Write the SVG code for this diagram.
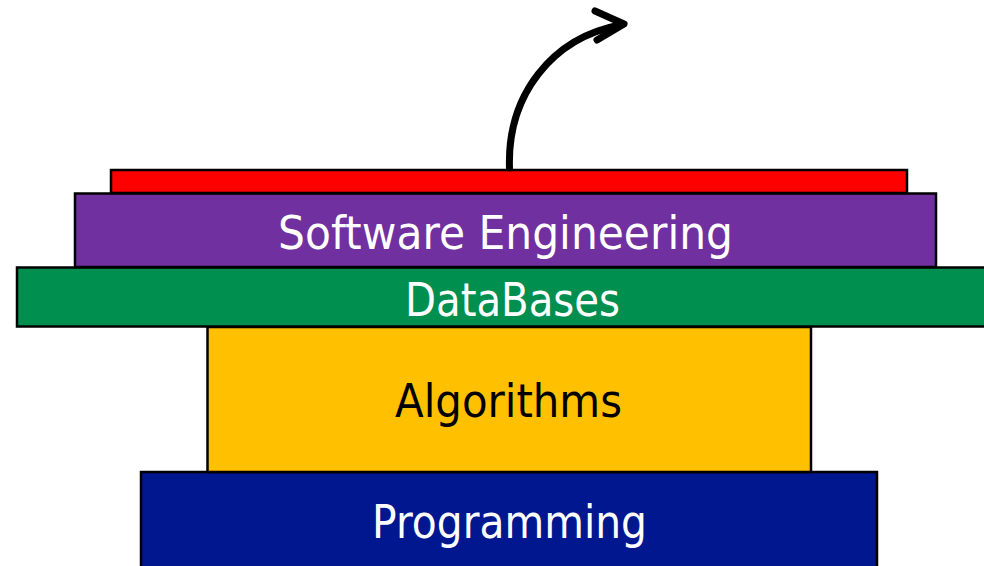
<svg xmlns="http://www.w3.org/2000/svg" width="984" height="566" viewBox="0 0 984 566">
  <style>
    .layer { stroke: #000; stroke-width: 2.5; }
    .lbl { font-family: "DejaVu Sans", "Liberation Sans", sans-serif; font-size: 46px; text-anchor: middle; }
    .light { fill: #ffffff; }
    .dark { fill: #000000; }
    .arrow { fill: none; stroke: #000; stroke-width: 7; stroke-linecap: round; stroke-linejoin: round; }
  </style>
  <rect width="984" height="566" fill="#ffffff"/>

  <g id="programming">
    <rect class="layer" x="141" y="472" width="736" height="100" fill="#00178F"/>
    <text class="lbl light" x="509.5" y="538" textLength="275" lengthAdjust="spacingAndGlyphs">Programming</text>
  </g>

  <g id="algorithms">
    <rect class="layer" x="207.5" y="327" width="603.5" height="145" fill="#FFC000"/>
    <text class="lbl dark" x="508.5" y="417" textLength="227" lengthAdjust="spacingAndGlyphs">Algorithms</text>
  </g>

  <g id="databases">
    <rect class="layer" x="17" y="267.5" width="990" height="59" fill="#008F4F"/>
    <text class="lbl light" x="512.5" y="316" textLength="215" lengthAdjust="spacingAndGlyphs">DataBases</text>
  </g>

  <g id="software-engineering">
    <rect class="layer" x="75" y="193.5" width="861" height="73.5" fill="#7030A0"/>
    <text class="lbl light" x="505.5" y="249" textLength="455" lengthAdjust="spacingAndGlyphs">Software Engineering</text>
  </g>

  <g id="top-layer">
    <rect class="layer" x="111" y="170" width="796" height="23" fill="#FF0000"/>
  </g>

  <g id="connectors">
    <path class="arrow" d="M509.5,168 C507,95 552,38 620,25"/>
    <path class="arrow" d="M595,11 L624,24 L597,40"/>
  </g>
</svg>
